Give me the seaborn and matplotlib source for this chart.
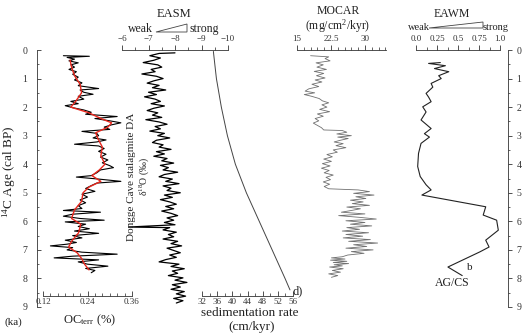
import numpy as np
import pandas as pd
import seaborn as sns
import matplotlib
matplotlib.use("Agg")
import matplotlib.pyplot as plt
from matplotlib.ticker import MultipleLocator, FixedLocator
from matplotlib.patches import Polygon

# ---- data (age in ka) ----
oc_age = [0.20, 0.22, 0.26, 0.32, 0.38, 0.45, 0.52, 0.60, 0.68, 0.76, 0.85, 0.95, 1.05, 1.15, 1.25,
          1.35, 1.40, 1.48, 1.55, 1.62, 1.72, 1.80, 1.88, 1.95, 2.02, 2.10, 2.18, 2.25, 2.33, 2.40,
          2.48, 2.55, 2.62, 2.70, 2.78, 2.85, 2.92, 3.00, 3.08, 3.15, 3.22, 3.30, 3.36, 3.45, 3.55,
          3.65, 3.75, 3.85, 3.95, 4.05, 4.12, 4.20, 4.30, 4.40, 4.45, 4.52, 4.60, 4.66, 4.75, 4.85,
          4.95, 5.05, 5.15, 5.25, 5.35, 5.45, 5.55, 5.62, 5.68, 5.75, 5.82, 5.90, 5.96, 6.02, 6.10,
          6.18, 6.26, 6.34, 6.42, 6.50, 6.58, 6.66, 6.74, 6.80, 6.86, 6.92, 7.00, 7.08, 7.15, 7.22,
          7.28, 7.35, 7.42, 7.50, 7.57, 7.65, 7.72, 7.80]
oc_val = [0.175, 0.245, 0.185, 0.205, 0.190, 0.215, 0.195, 0.205, 0.190, 0.210, 0.200, 0.215, 0.205, 0.225, 0.215,
          0.270, 0.220, 0.230, 0.255, 0.215, 0.230, 0.195, 0.215, 0.180, 0.200, 0.230, 0.250, 0.235, 0.320, 0.260,
          0.300, 0.330, 0.305, 0.285, 0.300, 0.225, 0.265, 0.270, 0.255, 0.290, 0.265, 0.205, 0.270, 0.285, 0.270,
          0.290, 0.275, 0.295, 0.280, 0.300, 0.310, 0.275, 0.265, 0.250, 0.210, 0.270, 0.330, 0.265, 0.250, 0.235,
          0.260, 0.225, 0.240, 0.220, 0.235, 0.215, 0.225, 0.175, 0.275, 0.200, 0.175, 0.220, 0.285, 0.180, 0.235,
          0.215, 0.245, 0.205, 0.270, 0.200, 0.225, 0.180, 0.210, 0.185, 0.140, 0.200, 0.185, 0.225, 0.320, 0.200,
          0.150, 0.270, 0.215, 0.240, 0.295, 0.235, 0.260, 0.250]
oc_smooth_age = [0.35, 0.6, 0.9, 1.2, 1.5, 1.8, 2.0, 2.2, 2.4, 2.55, 2.7, 2.9, 3.1, 3.4, 3.7, 4.0, 4.2,
                 4.4, 4.6, 4.8, 5.0, 5.3, 5.6, 5.9, 6.1, 6.4, 6.7, 6.9, 7.1, 7.3, 7.5, 7.7]
oc_smooth = [0.193, 0.197, 0.205, 0.220, 0.224, 0.208, 0.195, 0.244, 0.276, 0.305, 0.295, 0.262, 0.268, 0.280,
             0.276, 0.287, 0.272, 0.252, 0.276, 0.244, 0.228, 0.224, 0.205, 0.197, 0.222, 0.216, 0.197, 0.189,
             0.212, 0.224, 0.232, 0.244]

d18o_age = [0.10, 0.12, 0.20, 0.28, 0.36, 0.44, 0.52, 0.60, 0.68, 0.76, 0.84, 0.92, 1.00, 1.08, 1.16,
            1.24, 1.32, 1.40, 1.48, 1.56, 1.64, 1.72, 1.80, 1.88, 1.96, 2.04, 2.12, 2.20, 2.28, 2.36,
            2.44, 2.52, 2.60, 2.68, 2.76, 2.84, 2.92, 3.00, 3.08, 3.16, 3.24, 3.32, 3.40, 3.48, 3.56,
            3.64, 3.72, 3.80, 3.88, 3.96, 4.04, 4.12, 4.20, 4.28, 4.36, 4.44, 4.52, 4.60, 4.68, 4.76,
            4.84, 4.92, 5.00, 5.08, 5.16, 5.24, 5.32, 5.40, 5.48, 5.56, 5.64, 5.72, 5.80, 5.88, 5.96,
            6.04, 6.12, 6.20, 6.22, 6.30, 6.38, 6.46, 6.54, 6.62, 6.70, 6.78, 6.86, 6.94, 7.02, 7.10,
            7.18, 7.26, 7.34, 7.42, 7.50, 7.58, 7.66, 7.74, 7.82, 7.90, 7.98, 8.06, 8.14, 8.22, 8.30,
            8.38, 8.46, 8.54, 8.62, 8.70, 8.78, 8.86]
d18o_val = [-8.00, -7.40, -7.05, -7.45, -7.20, -6.80, -7.35, -7.50, -7.10, -7.25, -6.75, -7.30, -7.55, -7.20, -6.95,
            -7.40, -7.15, -7.65, -7.00, -7.30, -6.85, -7.25, -7.45, -7.10, -7.60, -7.20, -6.95, -7.35, -7.15, -7.50,
            -6.90, -7.40, -7.70, -7.25, -7.45, -7.05, -7.60, -7.35, -7.80, -7.30, -7.15, -7.55, -7.40, -7.85, -7.30,
            -7.60, -7.20, -7.70, -7.50, -7.95, -7.45, -7.75, -7.55, -8.10, -7.60, -7.40, -7.90, -7.65, -8.15, -7.55,
            -7.85, -7.70, -8.20, -7.60, -7.90, -7.45, -7.80, -8.05, -7.65, -7.95, -7.50, -7.85, -8.10, -7.70, -7.95,
            -7.60, -8.00, -6.25, -7.80, -7.55, -8.05, -7.75, -7.95, -7.55, -8.10, -7.85, -8.25, -7.70, -7.95, -8.20,
            -7.80, -8.05, -7.65, -7.40, -8.15, -7.85, -8.35, -7.90, -8.10, -7.75, -8.30, -8.00, -8.45, -7.90, -8.20,
            -7.85, -8.35, -8.05, -8.40, -7.95, -8.30, -8.05]

sed_age = [0.05, 1.0, 2.0, 3.0, 4.0, 5.0, 6.0, 7.0, 8.0, 8.4]
sed_rate = [35.0, 35.8, 37.1, 38.7, 40.8, 43.7, 47.1, 50.5, 53.9, 55.2]

mocar_age = [0.20, 0.24, 0.30, 0.38, 0.45, 0.52, 0.60, 0.68, 0.75, 0.82, 0.90, 0.98, 1.05, 1.12, 1.20,
             1.28, 1.36, 1.44, 1.50, 1.56, 1.62, 1.70, 1.78, 1.85, 1.92, 2.00, 2.08, 2.16, 2.24, 2.32,
             2.40, 2.48, 2.56, 2.64, 2.72, 2.80, 2.82, 2.88, 2.94, 3.00, 3.05, 3.10, 3.16, 3.22, 3.28,
             3.35, 3.42, 3.50, 3.58, 3.66, 3.74, 3.82, 3.90, 3.98, 4.06, 4.14, 4.22, 4.30, 4.38, 4.46,
             4.54, 4.62, 4.70, 4.78, 4.86, 4.90, 4.96, 5.02, 5.08, 5.14, 5.20, 5.26, 5.32, 5.38, 5.44,
             5.50, 5.56, 5.62, 5.68, 5.74, 5.80, 5.86, 5.92, 5.98, 6.04, 6.10, 6.16, 6.22, 6.28, 6.34,
             6.40, 6.46, 6.52, 6.58, 6.64, 6.70, 6.76, 6.82, 6.88, 6.94, 7.00, 7.06, 7.12, 7.18, 7.24,
             7.28, 7.32, 7.36, 7.40, 7.44, 7.48, 7.52, 7.56, 7.60, 7.66, 7.72, 7.78, 7.84, 7.90, 7.96]
mocar_val = [18.0, 22.0, 21.2, 22.3, 19.2, 20.8, 19.4, 21.5, 18.8, 20.9, 19.3, 21.2, 19.0, 20.5, 18.3,
             19.8, 17.6, 16.8, 18.9, 16.6, 18.2, 19.9, 20.6, 22.0, 20.5, 21.6, 20.0, 22.2, 19.5, 20.8,
             19.0, 19.8, 18.6, 19.5, 20.4, 20.9, 25.0, 26.0, 23.8, 27.0, 24.0, 26.3, 24.6, 23.2, 25.2,
             23.6, 25.8, 23.0, 23.9, 21.6, 22.8, 20.9, 22.6, 20.6, 22.3, 20.4, 22.1, 21.0, 23.0, 21.4,
             22.4, 20.8, 22.2, 21.0, 22.0, 28.5, 31.0, 27.5, 32.0, 28.0, 30.2, 26.8, 29.6, 27.2, 31.0,
             26.0, 29.0, 27.0, 24.8, 30.0, 24.2, 28.8, 32.5, 25.8, 30.0, 26.8, 31.5, 26.0, 28.8, 25.0,
             30.8, 25.8, 29.5, 25.2, 31.2, 26.4, 32.8, 27.5, 30.4, 25.8, 31.8, 27.0, 29.8, 26.2, 25.0,
             22.6, 25.6, 22.4, 26.0, 23.0, 26.4, 23.2, 25.0, 22.2, 25.2, 22.8, 24.6, 22.0, 24.0, 22.6]

eawm_age = [0.44, 0.47, 0.55, 0.65, 0.76, 0.90, 1.00, 1.17, 1.30, 1.52, 1.65, 1.81, 1.99, 2.17, 2.45,
            2.75, 2.93, 3.05, 3.27, 3.62, 4.08, 4.43, 4.72, 4.90, 5.08, 5.49, 5.78, 5.96, 6.31, 6.66,
            6.90, 7.07, 7.60, 7.90]
eawm_val = [0.29, 0.15, 0.35, 0.22, 0.39, 0.27, 0.30, 0.18, 0.20, 0.12, 0.15, 0.18, 0.08, 0.12, 0.06,
            0.18, 0.10, 0.16, 0.06, 0.03, 0.02, 0.05, 0.12, 0.18, 0.07, 0.83, 0.80, 0.96, 0.98, 0.83,
            0.87, 0.76, 0.38, 0.55]

oc = pd.DataFrame({"age": oc_age, "val": oc_val})
oc_s = pd.DataFrame({"age": oc_smooth_age, "val": oc_smooth})
dd = pd.DataFrame({"age": d18o_age, "val": d18o_val})
sed = pd.DataFrame({"age": sed_age, "val": sed_rate})
mo = pd.DataFrame({"age": mocar_age, "val": mocar_val})
ea = pd.DataFrame({"age": eawm_age, "val": eawm_val})

sns.set_style("ticks")
plt.rcParams["font.family"] = ["Liberation Serif", "DejaVu Serif"]
plt.rcParams["mathtext.fontset"] = "custom"
plt.rcParams["mathtext.rm"] = "Liberation Serif"
plt.rcParams["mathtext.it"] = "Liberation Serif:italic"

W, H = 522, 333
AX = "#333333"
fig = plt.figure(figsize=(W / 100, H / 100), dpi=100)


def box(x0, x1, y0=50, y1=307):
    # axes placed in pixel coords of the reference
    ax = fig.add_axes([x0 / W, 1 - y1 / H, (x1 - x0) / W, (y1 - y0) / H])
    ax.set_facecolor("none")
    for s in ax.spines.values():
        s.set_visible(False)
        s.set_color(AX)
        s.set_linewidth(0.6)
    ax.set_ylim(9, 0)
    ax.set_yticks([])
    ax.tick_params(colors=AX, width=0.6, labelsize=6.5, pad=1.5)
    ax.tick_params(which="minor", width=0.5)
    return ax


def txt(x, y, s, **kw):
    kw.setdefault("ha", "center")
    kw.setdefault("va", "center")
    kw.setdefault("color", "#222222")
    fig.text(x / W, 1 - y / H, s, **kw)


def wedge(pts):
    fig.add_artist(Polygon([(x / W, 1 - y / H) for x, y in pts], closed=True, fill=False,
                           lw=0.6, ec="#444444", transform=fig.transFigure))


def line(ax, df, **kw):
    sns.lineplot(data=df, x="val", y="age", ax=ax, sort=False, estimator=None, **kw)
    ax.set_xlabel("")
    ax.set_ylabel("")


# OC_terr panel with the age axis
ax1 = box(37, 132)
ax1.set_xlim(0.1038, 0.36)
line(ax1, oc, color="black", lw=0.8)
line(ax1, oc_s, color="#e8261c", lw=1.0)
ax1.spines["left"].set_visible(True)
ax1.spines["bottom"].set_visible(True)
ax1.spines["bottom"].set_position(("data", 8.62))
ax1.spines["bottom"].set_bounds(0.12, 0.36)
ax1.set_yticks(range(10))
ax1.yaxis.set_minor_locator(MultipleLocator(0.5))
ax1.tick_params(axis="y", which="both", direction="in", labelsize=7, pad=7)
ax1.tick_params(axis="y", which="major", length=3)
ax1.tick_params(axis="y", which="minor", length=1.5)
ax1.set_xticks([0.12, 0.24, 0.36])
ax1.set_xticklabels(["0.12", "0.24", "0.36"])
ax1.xaxis.set_minor_locator(FixedLocator([0.14, 0.16, 0.18, 0.20, 0.22, 0.26, 0.28, 0.30, 0.32, 0.34]))
ax1.tick_params(axis="x", which="both", direction="in")
ax1.tick_params(axis="x", which="major", length=3.5)
ax1.tick_params(axis="x", which="minor", length=2)

# Dongge Cave d18O, EASM axis on top
ax2 = box(122, 228)
ax2.set_xlim(-6, -10)
line(ax2, dd, color="black", lw=0.9)
ax2.spines["top"].set_visible(True)
ax2.xaxis.tick_top()
ax2.set_xticks([-6, -7, -8, -9, -10])
ax2.xaxis.set_minor_locator(MultipleLocator(0.5))
ax2.tick_params(axis="x", which="both", direction="out")
ax2.tick_params(axis="x", which="major", length=3.5)
ax2.tick_params(axis="x", which="minor", length=2)

# sedimentation rate
ax3 = box(202, 293)
ax3.set_xlim(32, 56)
line(ax3, sed, color="#444444", lw=0.7)
ax3.spines["bottom"].set_visible(True)
ax3.spines["bottom"].set_position(("data", 8.62))
ax3.set_xticks([32, 36, 40, 44, 48, 52, 56])
ax3.xaxis.set_minor_locator(MultipleLocator(2))
ax3.tick_params(axis="x", which="both", direction="in")
ax3.tick_params(axis="x", which="major", length=3.5)
ax3.tick_params(axis="x", which="minor", length=2)

# MOCAR
ax4 = box(297, 386)
ax4.set_xlim(15, 34.65)
line(ax4, mo, color="#707070", lw=0.6)
ax4.spines["top"].set_visible(True)
ax4.xaxis.tick_top()
ax4.set_xticks([15, 22.5, 30])
ax4.set_xticklabels(["15", "22.5", "30"])
ax4.xaxis.set_minor_locator(MultipleLocator(1.5))
ax4.tick_params(axis="x", which="both", direction="out")
ax4.tick_params(axis="x", which="major", length=3.5)
ax4.tick_params(axis="x", which="minor", length=2)

# EAWM (AG/CS)
ax5 = box(416, 500)
ax5.set_xlim(0, 1)
line(ax5, ea, color="#222222", lw=0.8)
ax5.spines["top"].set_visible(True)
ax5.xaxis.tick_top()
ax5.set_xticks([0, 0.25, 0.5, 0.75, 1.0])
ax5.set_xticklabels(["0.0", "0.25", "0.5", "0.75", "1.0"])
ax5.xaxis.set_minor_locator(MultipleLocator(0.125))
ax5.tick_params(axis="x", which="both", direction="out")
ax5.tick_params(axis="x", which="major", length=3.5)
ax5.tick_params(axis="x", which="minor", length=2)

# right age axis
ax6 = box(430, 508)
ax6.set_xticks([])
ax6.spines["right"].set_visible(True)
ax6.yaxis.tick_right()
ax6.set_yticks(range(10))
ax6.yaxis.set_minor_locator(MultipleLocator(0.5))
ax6.tick_params(axis="y", which="both", direction="out", labelsize=7, pad=3)
ax6.tick_params(axis="y", which="major", length=3)
ax6.tick_params(axis="y", which="minor", length=1.5)

# labels and annotations
txt(9, 172, "$^{14}$C Age (cal BP)", rotation=90, fontsize=9.5)
txt(13, 322, "(ka)", fontsize=8)
txt(90, 320, "OC$_{\\mathrm{terr}}$ (%)", fontsize=9)
txt(174, 14, "EASM", fontsize=9)
txt(140, 29, "weak", fontsize=8.5)
txt(204, 29, "strong", fontsize=8.5)
wedge([(156, 32), (187, 32), (187, 24)])
txt(131, 177, "Dongge Cave stalagmite DA", rotation=90, fontsize=8)
txt(144, 177, "δ$^{18}$O (‰)", rotation=90, fontsize=7)
txt(250, 313, "sedimentation rate", fontsize=9.5)
txt(252, 327, "(cm/kyr)", fontsize=9.5)
txt(298, 291, "d)", fontsize=9)
txt(338, 11, "MOCAR", fontsize=8.5)
txt(338, 26, "(mg/cm$^{2}$/kyr)", fontsize=8.5)
txt(452, 14, "EAWM", fontsize=8.5)
txt(419, 28, "weak", fontsize=7.5)
txt(496, 28, "strong", fontsize=7.5)
wedge([(429, 28), (483, 28), (483, 22)])
txt(470, 268, "b", fontsize=8)
txt(452, 283, "AG/CS", fontsize=8.5)

fig.savefig("out.png", dpi=100, facecolor="white")
